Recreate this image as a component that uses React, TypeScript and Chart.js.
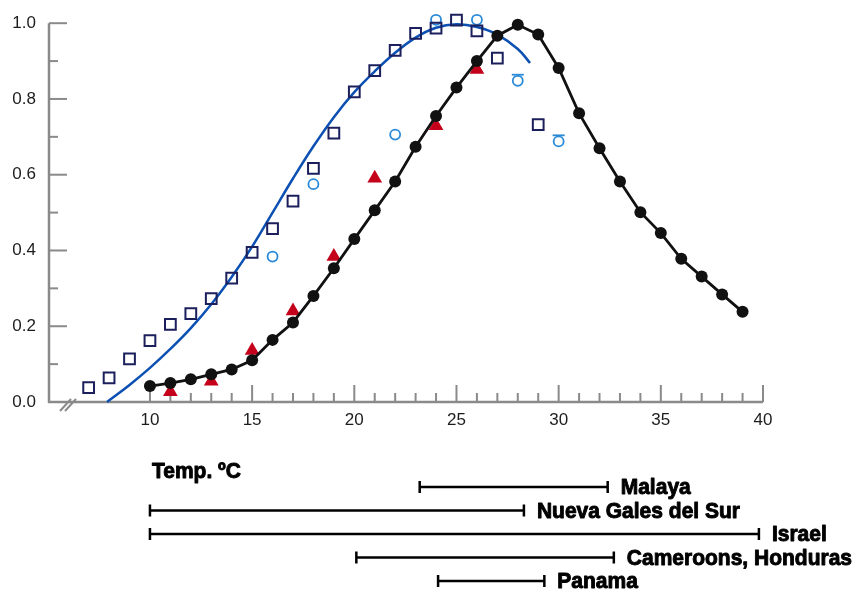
import React, { useEffect, useRef } from 'react';
import { Chart, registerables } from 'chart.js';

Chart.register(...registerables);

// ---- data ----
const xTickValues = [10, 15, 20, 25, 30, 35, 40];
const yTickValues = [0, 0.2, 0.4, 0.6, 0.8, 1.0];

const dotTemps = [10, 11, 12, 13, 14, 15, 16, 17, 18, 19, 20, 21, 22, 23, 24, 25, 26, 27, 28, 29, 30, 31, 32, 33, 34, 35, 36, 37, 38, 39];
const dotValues = [0.042, 0.05, 0.06, 0.073, 0.086, 0.11, 0.164, 0.21, 0.28, 0.353, 0.43, 0.506, 0.582, 0.674, 0.755, 0.83, 0.9, 0.967, 0.996, 0.97, 0.882, 0.762, 0.67, 0.582, 0.501, 0.446, 0.378, 0.331, 0.284, 0.238];

const squareTemps = [7, 8, 9, 10, 11, 12, 13, 14, 15, 16, 17, 18, 19, 20, 21, 22, 23, 24, 25, 26, 27, 29];
const squareValues = [0.038, 0.064, 0.114, 0.162, 0.205, 0.233, 0.273, 0.327, 0.395, 0.458, 0.53, 0.617, 0.71, 0.819, 0.875, 0.928, 0.973, 0.987, 1.008, 0.98, 0.908, 0.732];

const circleTemps = [16, 18, 22, 24, 26, 28, 30];
const circleValues = [0.384, 0.575, 0.706, 1.009, 1.009, 0.848, 0.688];
const circleBarTemps = [28, 30];
const circleBarValues = [0.864, 0.704];

const triangleTemps = [11, 13, 15, 17, 19, 21, 24, 26];
const triangleValues = [0.027, 0.055, 0.136, 0.24, 0.384, 0.591, 0.729, 0.878];

const curveTemps = [7.9, 9, 10, 11, 12, 13, 14, 15, 16, 17, 18, 19, 20, 21, 22, 23, 24, 25, 26, 27, 28, 28.6];
const curveValues = [0.0, 0.045, 0.09, 0.14, 0.195, 0.258, 0.33, 0.41, 0.5, 0.59, 0.675, 0.752, 0.818, 0.873, 0.922, 0.962, 0.988, 0.997, 0.99, 0.97, 0.932, 0.895];

const rangeTitle = 'Temp. ºC';
const rangeLabels = ['Malaya', 'Nueva Gales del Sur', 'Israel', 'Cameroons, Honduras', 'Panama'];
const rangeStarts = [23.2, 10, 10, 20.1, 24.1];
const rangeEnds = [32.4, 28.3, 39.8, 32.7, 29.3];

const pts = (xs: number[], ys: number[]) => xs.map((x, i) => ({ x, y: ys[i] }));

const AXIS_GRAY = '#8a8a8a';
const LABEL_FONT = '"Liberation Sans", Arial, sans-serif';

const axesPlugin = {
  id: 'customAxes',
  beforeDatasetsDraw(chart: any) {
    const { ctx, chartArea, scales } = chart;
    const xs = scales.x;
    const ys = scales.y;
    ctx.save();
    ctx.strokeStyle = AXIS_GRAY;
    ctx.lineWidth = 2.5;
    ctx.lineCap = 'butt';
    ctx.beginPath();
    ctx.moveTo(chartArea.left, chartArea.top);
    ctx.lineTo(chartArea.left, chartArea.bottom + 1);
    ctx.moveTo(chartArea.left - 1, chartArea.bottom);
    ctx.lineTo(chartArea.right, chartArea.bottom);
    ctx.stroke();
    ctx.lineWidth = 2;
    for (let i = 0; i <= 10; i++) {
      const y = ys.getPixelForValue(i / 10);
      const len = i % 2 === 0 ? 18 : 9;
      ctx.beginPath();
      ctx.moveTo(chartArea.left, y);
      ctx.lineTo(chartArea.left + len, y);
      ctx.stroke();
    }
    for (let v = 10; v <= 40; v++) {
      const x = xs.getPixelForValue(v);
      const len = v % 5 === 0 ? 17 : 9;
      ctx.beginPath();
      ctx.moveTo(x, chartArea.bottom);
      ctx.lineTo(x, chartArea.bottom - len);
      ctx.stroke();
    }
    ctx.lineWidth = 2;
    const b = chartArea.bottom;
    for (const off of [11, 16]) {
      ctx.beginPath();
      ctx.moveTo(chartArea.left + off, b + 9);
      ctx.lineTo(chartArea.left + off + 11, b - 3);
      ctx.stroke();
    }
    ctx.restore();
  },
  afterDraw(chart: any) {
    const { ctx, scales } = chart;
    const xs = scales.x;
    ctx.save();
    ctx.fillStyle = '#000';
    ctx.strokeStyle = '#000';
    ctx.font = `bold 21px ${LABEL_FONT}`;
    ctx.textBaseline = 'alphabetic';
    ctx.textAlign = 'left';
    const heavyText = (t: string, x: number, y: number) => {
      ctx.save();
      ctx.translate(x, y);
      ctx.scale(1.0, 1.05);
      ctx.lineWidth = 0.9;
      ctx.lineJoin = 'round';
      ctx.fillText(t, 0, 0);
      ctx.strokeText(t, 0, 0);
      ctx.restore();
    };
    heavyText(rangeTitle, 152, 478);
    const rowY = [487, 510.5, 534, 557.5, 581];
    rangeLabels.forEach((label, i) => {
      const x1 = xs.getPixelForValue(rangeStarts[i]);
      const x2 = xs.getPixelForValue(rangeEnds[i]);
      const y = rowY[i];
      ctx.lineWidth = 2.5;
      ctx.beginPath();
      ctx.moveTo(x1, y);
      ctx.lineTo(x2, y);
      ctx.moveTo(x1, y - 6);
      ctx.lineTo(x1, y + 6);
      ctx.moveTo(x2, y - 6);
      ctx.lineTo(x2, y + 6);
      ctx.stroke();
      heavyText(label, x2 + 13, y + 7);
    });
    ctx.restore();
  },
};

export default function App() {
  const canvasRef = useRef<HTMLCanvasElement | null>(null);

  useEffect(() => {
    const canvas = canvasRef.current;
    if (!canvas) return;
    const tickFont = { family: LABEL_FONT, size: 17 };
    const chart = new Chart(canvas, {
      type: 'scatter',
      data: {
        datasets: [
          {
            label: 'dots',
            data: pts(dotTemps, dotValues),
            showLine: true,
            borderColor: '#111111',
            borderWidth: 2.8,
            backgroundColor: '#111111',
            pointBackgroundColor: '#111111',
            pointBorderColor: '#111111',
            pointRadius: 6,
            pointBorderWidth: 0,
            tension: 0,
            clip: false,
          },
          {
            label: 'triangles',
            data: pts(triangleTemps, triangleValues),
            pointStyle: 'triangle',
            pointRadius: 8.5,
            pointBackgroundColor: '#c4001a',
            pointBorderColor: '#c4001a',
            pointBorderWidth: 0,
            clip: false,
          },
          {
            label: 'squares',
            data: pts(squareTemps, squareValues),
            pointStyle: 'rect',
            pointRadius: 7.6,
            pointBackgroundColor: 'rgba(255,255,255,0)',
            pointBorderColor: '#1b1f5c',
            pointBorderWidth: 2,
            clip: false,
          },
          {
            label: 'circleBars',
            data: pts(circleBarTemps, circleBarValues),
            pointStyle: 'line',
            pointRadius: 6,
            pointBorderColor: '#2a8ad8',
            pointBorderWidth: 1.8,
            clip: false,
          },
          {
            label: 'circles',
            data: pts(circleTemps, circleValues),
            pointStyle: 'circle',
            pointRadius: 5,
            pointBackgroundColor: 'rgba(255,255,255,0)',
            pointBorderColor: '#2a8ad8',
            pointBorderWidth: 1.8,
            clip: false,
          },
          {
            label: 'curve',
            data: pts(curveTemps, curveValues),
            showLine: true,
            borderColor: '#0b50b2',
            borderWidth: 2.5,
            pointRadius: 0,
            tension: 0.4,
            clip: false,
          },
        ],
      },
      options: {
        animation: false,
        responsive: false,
        maintainAspectRatio: false,
        layout: { padding: { top: 19, right: 97, left: 0, bottom: 0 } },
        plugins: { legend: { display: false }, tooltip: { enabled: false } },
        scales: {
          x: {
            type: 'linear',
            min: 5.06,
            max: 40,
            grid: { display: false, drawTicks: false },
            border: { display: false },
            afterBuildTicks: (s: any) => {
              s.ticks = xTickValues.map((v) => ({ value: v }));
            },
            afterFit: (s: any) => {
              s.height = 192;
            },
            ticks: {
              padding: 8,
              autoSkip: false,
              maxRotation: 0,
              font: tickFont,
              color: '#1c1c1c',
              callback: (v: any) => String(v),
            },
          },
          y: {
            type: 'linear',
            min: 0,
            max: 1,
            grid: { display: false, drawTicks: false },
            border: { display: false },
            afterBuildTicks: (s: any) => {
              s.ticks = yTickValues.map((v) => ({ value: v }));
            },
            afterFit: (s: any) => {
              s.width = 49;
            },
            ticks: {
              padding: 13,
              font: tickFont,
              color: '#1c1c1c',
              callback: (v: any) => Number(v).toFixed(1),
            },
          },
        },
      },
      plugins: [axesPlugin],
    } as any);
    return () => chart.destroy();
  }, []);

  return (
    <div style={{ position: 'fixed', left: 0, top: 0, width: 860, height: 594, background: '#fff' }}>
      <canvas ref={canvasRef} width={860} height={594} style={{ width: 860, height: 594, display: 'block' }} />
    </div>
  );
}
